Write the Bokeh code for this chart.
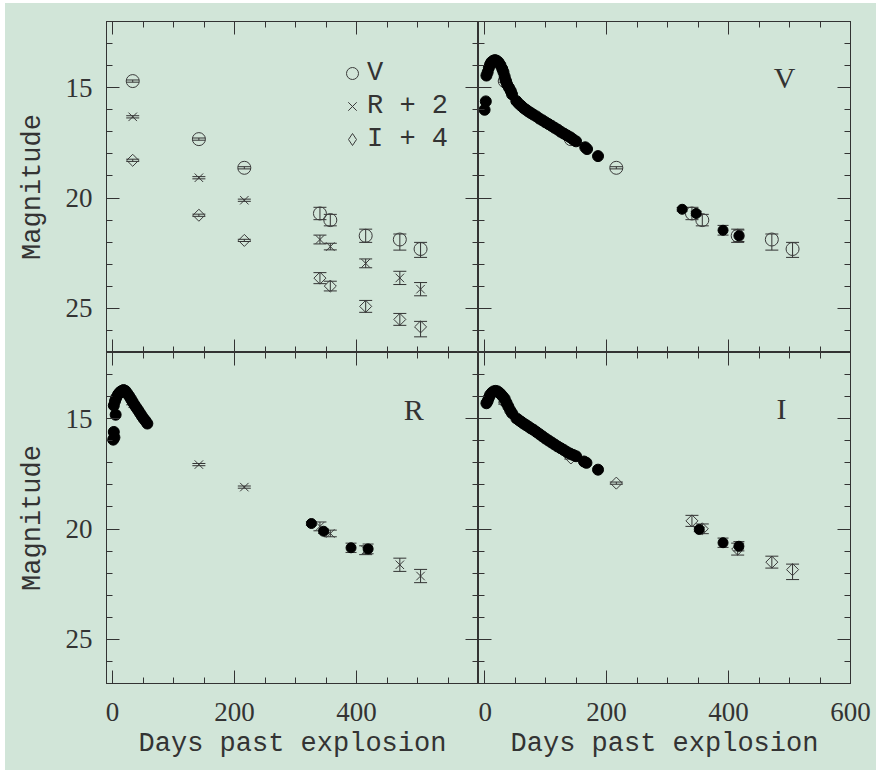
from bokeh.plotting import figure
from bokeh.models import (Range1d, FixedTicker, LinearAxis, ColumnDataSource,
                          Whisker, TeeHead, Legend, LegendItem, Label)
from bokeh.layouts import column, row
from bokeh.embed import file_html
from bokeh.resources import INLINE

# ---------------- data ----------------
# open symbols: this work's photometry
days_open = [33, 141.5, 216, 340, 357, 415, 471, 505]
V_open = [14.70, 17.33, 18.63, 20.70, 21.00, 21.71, 21.88, 22.31]
V_err_lo = [0.05, 0.05, 0.05, 0.28, 0.26, 0.30, 0.25, 0.30]
V_err_hi = [0.05, 0.05, 0.05, 0.28, 0.26, 0.30, 0.48, 0.38]
R_open = [14.32, 17.08, 18.10, 19.88, 20.20, 20.96, 21.62, 22.13]
R_err_lo = [0.05, 0.05, 0.05, 0.20, 0.15, 0.20, 0.30, 0.30]
R_err_hi = [0.05, 0.05, 0.05, 0.20, 0.15, 0.20, 0.30, 0.30]
I_open = [14.29, 16.78, 17.92, 19.63, 19.99, 20.91, 21.50, 21.84]
I_err_lo = [0.05, 0.05, 0.05, 0.25, 0.22, 0.27, 0.27, 0.25]
I_err_hi = [0.05, 0.05, 0.05, 0.25, 0.22, 0.27, 0.27, 0.45]
R_offset = 2
I_offset = 4

# filled symbols: comparison light curves
V_fill_days = [0, 2, 3, 5, 7, 9, 11, 14, 17, 20, 23, 26, 29, 31, 33, 35, 37, 40, 43, 45,
               52, 56, 60, 64, 68, 72, 76, 80, 85, 90, 95, 100, 105, 110, 115, 120, 125,
               130, 135, 140, 145, 150, 165, 168, 186]
V_fill = [16.0, 15.62, 14.45, 14.3, 14.1, 13.95, 13.85, 13.78, 13.75, 13.78, 13.85, 13.98,
          14.15, 14.3, 14.5, 14.7, 14.85, 15.0, 15.15, 15.3,
          15.6, 15.72, 15.82, 15.92, 16.0, 16.08, 16.15, 16.22, 16.3, 16.4, 16.48, 16.57,
          16.65, 16.73, 16.82, 16.9, 17.0, 17.08, 17.16, 17.24, 17.34, 17.43, 17.7, 17.78, 18.1]
V_late_days = [324, 347, 391, 417]
V_late = [20.51, 20.70, 21.46, 21.71]
V_late_err = [0.08, 0.10, 0.22, 0.26]

R_fill_days = [1, 2, 3, 5, 2, 4, 6, 9, 12, 15, 18, 21, 24, 27, 30, 33, 36, 39, 42, 45,
               48, 51, 54, 57]
R_fill = [15.95, 15.6, 15.85, 14.82, 14.4, 14.2, 14.05, 13.9, 13.8, 13.74, 13.7, 13.74,
          13.85, 13.97, 14.1, 14.24, 14.38, 14.5, 14.62, 14.75, 14.88, 15.0, 15.1, 15.22]
R_late_days = [326, 346, 391, 419]
R_late = [19.75, 20.10, 20.85, 20.90]
R_late_err = [0.08, 0.10, 0.21, 0.22]

I_fill_days = [3, 5, 7, 9, 12, 15, 18, 21, 24, 27, 30, 33, 36, 39, 42, 45,
               52, 56, 60, 64, 68, 72, 76, 80, 85, 90, 95, 100, 105, 110, 115, 120, 125,
               130, 135, 140, 145, 150, 163, 167, 186]
I_fill = [14.3, 14.2, 14.05, 13.92, 13.82, 13.76, 13.74, 13.76, 13.82, 13.9, 14.0, 14.1,
          14.28, 14.45, 14.62, 14.75,
          14.98, 15.06, 15.14, 15.22, 15.29, 15.36, 15.44, 15.5, 15.6, 15.7, 15.8, 15.9,
          15.99, 16.08, 16.17, 16.26, 16.34, 16.42, 16.51, 16.58, 16.64, 16.7, 16.94, 17.0, 17.31]
I_late_days = [352, 391, 417]
I_late = [20.02, 20.62, 20.78]
I_late_err = [0.10, 0.21, 0.21]

x_major = [0, 200, 400, 600]
x_minor = list(range(0, 601, 50))
y_major = [15, 20, 25]
y_minor = list(range(12, 28))

x_title = "Days past explosion"
y_title = "Magnitude"
legend_labels = ["V", "R + 2", "I + 4"]
panel_names = ["V", "R", "I"]

# ---------------- style ----------------
BG = "#d1e5d8"
INK = "#333333"
MARK = "#3a3a3a"
NUM_FONT = "Liberation Serif"
TXT_FONT = "Liberation Mono"
NAN = float("nan")


def panel(width, height, left, right, top, bottom):
    p = figure(width=width, height=height, x_range=Range1d(-10, 600), y_range=Range1d(27, 12),
               x_axis_location=None, y_axis_location=None, output_backend="svg",
               toolbar_location=None, min_border_left=left, min_border_right=right,
               min_border_top=top, min_border_bottom=bottom)
    p.grid.visible = False
    p.background_fill_color = BG
    p.border_fill_color = BG
    p.outline_line_color = INK
    p.outline_line_width = 1
    return p


def add_axis(p, side, major, minor, labels=False, overrides=None, title=None):
    ax = LinearAxis(ticker=FixedTicker(ticks=major, minor_ticks=minor))
    ax.major_tick_in = 13
    ax.major_tick_out = 0
    ax.minor_tick_in = 6
    ax.minor_tick_out = 0
    ax.axis_line_color = INK
    ax.major_tick_line_color = INK
    ax.minor_tick_line_color = INK
    if labels:
        ax.major_label_text_font = NUM_FONT
        ax.major_label_text_font_size = "27px"
        ax.major_label_text_color = INK
        ax.major_label_standoff = 14 if side == "left" else 19
        if overrides:
            ax.major_label_overrides = overrides
    else:
        ax.major_label_text_color = None
        ax.major_label_text_font_size = "1px"
        ax.major_label_standoff = 0
    if title:
        ax.axis_label = title
        ax.axis_label_text_font = TXT_FONT
        ax.axis_label_text_font_size = "27px"
        ax.axis_label_text_font_style = "normal"
        ax.axis_label_text_color = INK
        ax.axis_label_standoff = 15 if side == "left" else 5
    p.add_layout(ax, side)


def errbars(p, x, y, lo, hi, cap=13):
    src = ColumnDataSource(dict(x=x, lower=[a - b for a, b in zip(y, lo)],
                                upper=[a + b for a, b in zip(y, hi)]))
    w = Whisker(source=src, base="x", lower="lower", upper="upper", dimension="height",
                line_color=INK, line_width=1,
                lower_head=TeeHead(size=cap, line_color=INK, line_width=1),
                upper_head=TeeHead(size=cap, line_color=INK, line_width=1))
    p.add_layout(w)


def open_pts(p, x, y, lo, hi, kind):
    errbars(p, x, y, lo, hi)
    if kind == "circle":
        p.scatter(x, y, marker="circle", size=13, fill_color=None, line_color=MARK, line_width=1)
    elif kind == "x":
        p.scatter(x, y, marker="x", size=12, line_color=MARK, line_width=1)
    else:
        p.scatter(x, y, marker="square", angle=0.785398, size=8.5, fill_color=None,
                  line_color=MARK, line_width=1)


def filled_pts(p, xd, yd, xl, yl, el):
    p.scatter(xd, yd, marker="circle", size=11, fill_color="black", line_color="black")
    errbars(p, xl, yl, el, el, cap=11)
    p.scatter(xl, yl, marker="circle", size=10, fill_color="black", line_color="black")


def name_label(p, text, x, y):
    p.add_layout(Label(x=x, y=y, text=text, text_font=NUM_FONT, text_font_size="30px",
                       text_color=INK, text_align="center", text_baseline="middle"))


# frame: 372 x 331 px per panel
tl = panel(473, 349, 101, 0, 18, 0)
tr = panel(398, 349, 0, 26, 18, 0)
bl = panel(473, 418, 101, 0, 0, 87)
br = panel(398, 418, 0, 26, 0, 87)

for p in (tl, tr, bl, br):
    add_axis(p, "above", x_major, x_minor)
    add_axis(p, "right", y_major, y_minor)
add_axis(tl, "left", y_major, y_minor, labels=True, title=y_title)
add_axis(bl, "left", y_major, y_minor, labels=True, title=y_title)
add_axis(tr, "left", y_major, y_minor)
add_axis(br, "left", y_major, y_minor)
add_axis(tl, "below", x_major, x_minor)
add_axis(tr, "below", x_major, x_minor)
add_axis(bl, "below", x_major, x_minor, labels=True, overrides={600: ""}, title=x_title)
add_axis(br, "below", x_major, x_minor, labels=True, title=x_title)

# top-left: all three bands, open symbols, offsets
open_pts(tl, days_open, V_open, V_err_lo, V_err_hi, "circle")
open_pts(tl, days_open, [v + R_offset for v in R_open], R_err_lo, R_err_hi, "x")
open_pts(tl, days_open, [v + I_offset for v in I_open], I_err_lo, I_err_hi, "diamond")

# legend glyph renderers (a single NaN point: never drawn in the frame)
lg_v = tl.scatter([NAN], [NAN], marker="circle", fill_color=None, line_color=MARK, line_width=1)
lg_r = tl.scatter([NAN], [NAN], marker="x", line_color=MARK, line_width=1)
lg_i = tl.scatter([NAN], [NAN], marker="diamond", fill_color=None, line_color=MARK, line_width=1)
leg = Legend(items=[LegendItem(label=legend_labels[0], renderers=[lg_v]),
                    LegendItem(label=legend_labels[1], renderers=[lg_r]),
                    LegendItem(label=legend_labels[2], renderers=[lg_i])],
             location=(231, 198), padding=0, margin=0, spacing=3,
             glyph_width=30, glyph_height=30, label_height=30, label_standoff=0,
             border_line_color=None, background_fill_alpha=0,
             label_text_font=TXT_FONT, label_text_font_size="27px", label_text_color=INK)
tl.add_layout(leg)

# top-right: V
open_pts(tr, days_open, V_open, V_err_lo, V_err_hi, "circle")
filled_pts(tr, V_fill_days, V_fill, V_late_days, V_late, V_late_err)
name_label(tr, panel_names[0], 492, 14.55)

# bottom-left: R
open_pts(bl, days_open, R_open, R_err_lo, R_err_hi, "x")
filled_pts(bl, R_fill_days, R_fill, R_late_days, R_late, R_late_err)
name_label(bl, panel_names[1], 494, 14.6)

# bottom-right: I
open_pts(br, days_open, I_open, I_err_lo, I_err_hi, "diamond")
filled_pts(br, I_fill_days, I_fill, I_late_days, I_late, I_late_err)
name_label(br, panel_names[2], 487, 14.55)

top_row = row(tl, tr, styles={"background-color": BG})
bot_row = row(bl, br, styles={"background-color": BG})
layout = column(top_row, bot_row, margin=(3, 0, 0, 5), styles={"background-color": BG})
open("out.html", "w").write(file_html(layout, INLINE))
